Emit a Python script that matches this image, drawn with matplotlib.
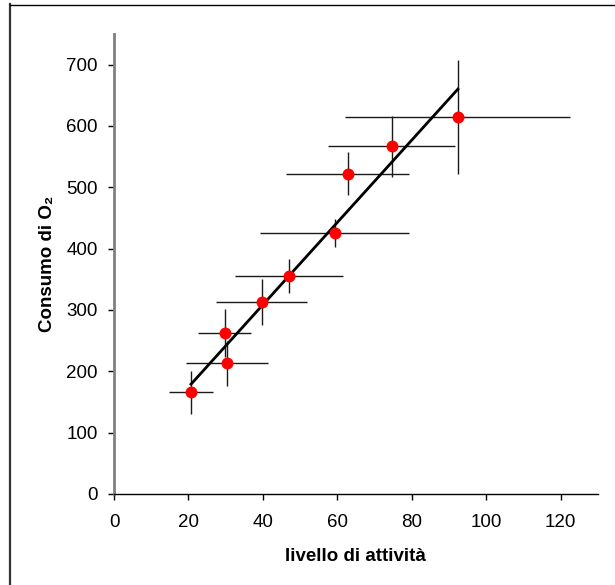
import matplotlib.pyplot as plt
from matplotlib.lines import Line2D

plt.rcParams['font.family'] = ['Liberation Sans', 'DejaVu Sans']

# activity level vs O2 consumption, with errors on both axes
x = [20.7, 29.7, 30.4, 39.7, 47.1, 59.3, 62.8, 74.6, 92.4]
y = [166, 262, 213, 313, 355, 425, 522, 567, 614]
x_err = [5.8, 7.0, 11.0, 12.2, 14.5, 20.0, 16.6, 17.0, 30.2]
y_err = [35, 39, 37, 37, 28, 23, 35, 50, 93]

# regression line endpoints
fit_x = [20.7, 92.4]
fit_y = [179, 660]

fig = plt.figure(figsize=(6.15, 5.85), dpi=100)
ax = fig.add_axes([0.1854, 0.1556, 0.7866, 0.7864])

ax.errorbar(x, y, xerr=x_err, yerr=y_err, fmt='none', ecolor='#1a1a1a',
            elinewidth=1.0, capsize=0, zorder=2)
ax.plot(fit_x, fit_y, color='black', linewidth=2.0, zorder=3)
ax.plot(x, y, 'o', color='#ff0000', markersize=8.6, markeredgewidth=0, zorder=4)

ax.set_xlim(0, 130)
ax.set_ylim(0, 750)
ax.set_xticks(range(0, 121, 20))
ax.set_yticks(range(0, 701, 100))
ax.tick_params(direction='out', length=4.3, width=1, labelsize=13.5, colors='black')
ax.tick_params(axis='x', pad=10)
ax.tick_params(axis='y', pad=7.5)

ax.spines['top'].set_visible(False)
ax.spines['right'].set_visible(False)
ax.spines['left'].set_color('#808080')
ax.spines['left'].set_linewidth(2)
ax.spines['bottom'].set_color('black')
ax.spines['bottom'].set_linewidth(1)

ax.set_xlabel('livello di attività', fontsize=13.5, fontweight='bold', labelpad=12)
ax.set_ylabel('Consumo di O₂', fontsize=13.5, fontweight='bold', labelpad=7.5)

# frame lines of the original picture (top and left edges)
fig.add_artist(Line2D([9.5 / 615, 9.5 / 615], [0, 1 - 4 / 585], transform=fig.transFigure,
                      color='#333333', linewidth=1.6))
fig.add_artist(Line2D([9.5 / 615, 1], [1 - 4.5 / 585, 1 - 4.5 / 585], transform=fig.transFigure,
                      color='black', linewidth=1.0))

fig.savefig('out.png', dpi=100)
